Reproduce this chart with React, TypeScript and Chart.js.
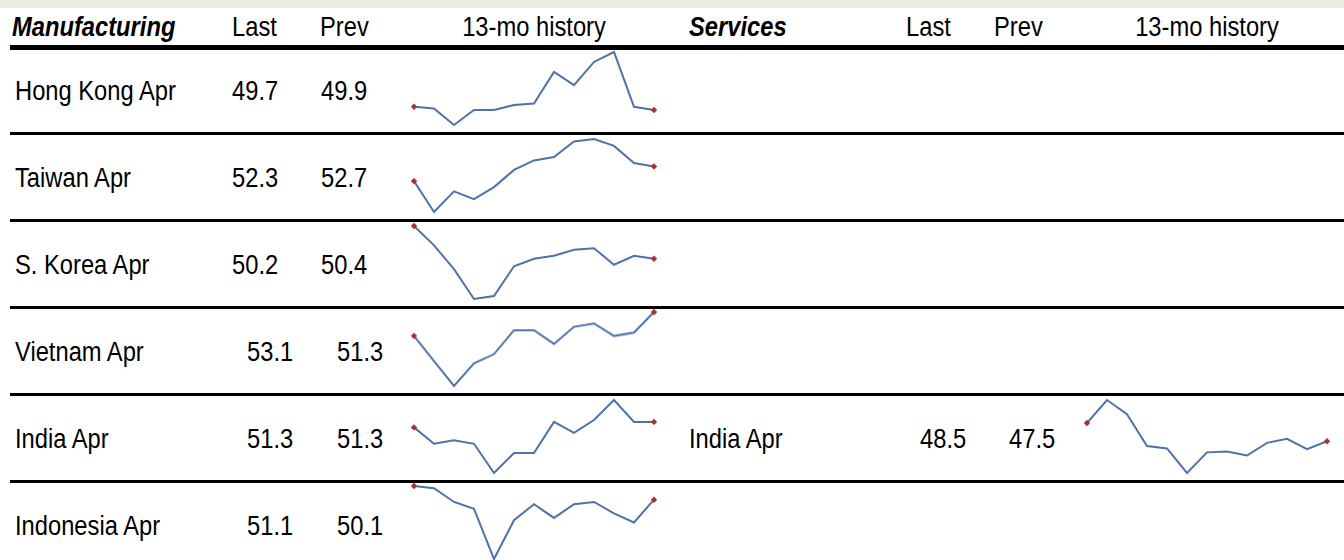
import React, { useEffect, useRef } from "react";
import { Chart, registerables } from "chart.js";

Chart.register(...registerables);

// ---------- data ----------
const months = ["Apr", "May", "Jun", "Jul", "Aug", "Sep", "Oct", "Nov", "Dec", "Jan", "Feb", "Mar", "Apr"];

const mfgNames = ["Hong Kong Apr", "Taiwan Apr", "S. Korea Apr", "Vietnam Apr", "India Apr", "Indonesia Apr"];
const mfgLast = ["49.7", "52.3", "50.2", "53.1", "51.3", "51.1"];
const mfgPrev = ["49.9", "52.7", "50.4", "51.3", "51.3", "50.1"];

const hongKong = [49.9, 49.8, 48.8, 49.7, 49.7, 50.0, 50.1, 52.0, 51.2, 52.6, 53.2, 49.9, 49.7];
const taiwan = [50.6, 47.0, 49.4, 48.5, 49.9, 51.9, 53.0, 53.4, 55.2, 55.5, 54.7, 52.7, 52.3];
const korea = [52.4, 51.1, 49.5, 47.5, 47.7, 49.7, 50.2, 50.4, 50.8, 50.9, 49.8, 50.4, 50.2];
const vietnam = [51.0, 48.8, 46.6, 48.6, 49.4, 51.5, 51.5, 50.3, 51.8, 52.1, 51.0, 51.3, 53.1];
const indiaMfg = [51.0, 50.1, 50.3, 50.1, 48.5, 49.6, 49.6, 51.3, 50.7, 51.4, 52.5, 51.3, 51.3];
const indonesia = [51.7, 51.6, 51.0, 50.7, 48.5, 50.2, 50.9, 50.3, 50.9, 51.0, 50.5, 50.1, 51.1];
const mfgHistory = [hongKong, taiwan, korea, vietnam, indiaMfg, indonesia];

const svcNames = ["India Apr"];
const svcLast = ["48.5"];
const svcPrev = ["47.5"];
const indiaSvc = [50.8, 53.7, 51.9, 47.9, 47.6, 44.5, 47.1, 47.2, 46.7, 48.3, 48.8, 47.5, 48.5];
const svcHistory = [indiaSvc];
const svcRowIndex = [4];

const headers = { mfg: "Manufacturing", svc: "Services", last: "Last", prev: "Prev", hist: "13-mo history" };

// ---------- layout ----------
const LINES = [47, 133.5, 220.5, 307.3, 394.5, 481.3, 568];
const SVC_DX = 674;
const HEADER_C = 27;
const FONT = '"Liberation Sans", Arial, Helvetica, sans-serif';
const FS = 26.8;
const SX = 0.885;

function Txt(props: { x: number; c: number; text: string; bold?: boolean; center?: boolean }) {
  const { x, c, text, bold, center } = props;
  return (
    <div
      style={{
        position: "absolute",
        left: x,
        top: c - 0.4885 * FS,
        fontFamily: FONT,
        fontSize: FS,
        lineHeight: `${FS}px`,
        height: FS,
        whiteSpace: "nowrap",
        color: "#000",
        fontWeight: bold ? 700 : 400,
        fontStyle: bold ? "italic" : "normal",
        transform: center ? `translateX(-50%) scaleX(${SX})` : `scaleX(${SX})`,
        transformOrigin: center ? "50% 50%" : "0 50%",
      }}
    >
      {text}
    </div>
  );
}

function Spark(props: { data: number[]; left: number; row: number }) {
  const ref = useRef<HTMLCanvasElement | null>(null);
  const { data, left, row } = props;
  const top = LINES[row] + 1;
  const height = LINES[row + 1] - LINES[row] - 5.5;
  const width = 260;
  useEffect(() => {
    if (!ref.current) return;
    const n = data.length;
    const chart = new Chart(ref.current, {
      type: "line",
      data: {
        labels: months,
        datasets: [
          {
            data,
            borderColor: "#4d73a8",
            borderWidth: 2,
            tension: 0,
            clip: false as any,
            pointRadius: data.map((_, i) => (i === 0 || i === n - 1 ? 3.2 : 0)),
            pointStyle: "rectRot",
            pointBackgroundColor: "#a83232",
            pointBorderColor: "#a83232",
            pointBorderWidth: 0,
          },
        ],
      },
      options: {
        animation: false,
        responsive: false,
        maintainAspectRatio: false,
        events: [],
        plugins: { legend: { display: false }, tooltip: { enabled: false } },
        layout: { padding: { left: 10, right: 10, top: 4, bottom: 4 } },
        scales: {
          x: { display: false, offset: false },
          y: { display: false, min: Math.min(...data), max: Math.max(...data) },
        },
      },
    });
    return () => chart.destroy();
  }, [data]);
  return (
    <canvas
      ref={ref}
      width={width}
      height={height}
      style={{ position: "absolute", left, top, width, height }}
    />
  );
}

export default function App() {
  const rowC = (k: number) => (LINES[k] + LINES[k + 1]) / 2 + 1;
  const lastX = (k: number) => (k < 3 ? 232 : 247);
  const prevX = (k: number) => (k < 3 ? 321 : 337);
  return (
    <div
      style={{
        position: "absolute",
        left: 0,
        top: 0,
        width: 1344,
        height: 560,
        overflow: "hidden",
        background: "#fff",
      }}
    >
      <div style={{ position: "absolute", left: 0, top: 0, width: 1344, height: 7.5, background: "#eeebe1" }} />

      <Txt x={12} c={HEADER_C} text={headers.mfg} bold />
      <Txt x={232} c={HEADER_C} text={headers.last} />
      <Txt x={320} c={HEADER_C} text={headers.prev} />
      <Txt x={534} c={HEADER_C} text={headers.hist} center />
      <Txt x={12 + SVC_DX + 3} c={HEADER_C} text={headers.svc} bold />
      <Txt x={232 + SVC_DX} c={HEADER_C} text={headers.last} />
      <Txt x={320 + SVC_DX} c={HEADER_C} text={headers.prev} />
      <Txt x={534 + SVC_DX - 1} c={HEADER_C} text={headers.hist} center />

      <div style={{ position: "absolute", left: 10, top: 44.5, width: 1334, height: 5.2, background: "#000" }} />
      {LINES.slice(1, 6).map((y, i) => (
        <div key={i} style={{ position: "absolute", left: 10, top: y - 1.4, width: 1334, height: 2.8, background: "#000" }} />
      ))}

      {mfgNames.map((name, k) => (
        <React.Fragment key={name}>
          <Txt x={15} c={rowC(k)} text={name} />
          <Txt x={lastX(k)} c={rowC(k)} text={mfgLast[k]} />
          <Txt x={prevX(k)} c={rowC(k)} text={mfgPrev[k]} />
          <Spark data={mfgHistory[k]} left={404} row={k} />
        </React.Fragment>
      ))}

      {svcNames.map((name, j) => {
        const k = svcRowIndex[j];
        return (
          <React.Fragment key={"s" + name}>
            <Txt x={15 + SVC_DX} c={rowC(k)} text={name} />
            <Txt x={246 + SVC_DX} c={rowC(k)} text={svcLast[j]} />
            <Txt x={335 + SVC_DX} c={rowC(k)} text={svcPrev[j]} />
            <Spark data={svcHistory[j]} left={404 + SVC_DX - 1} row={k} />
          </React.Fragment>
        );
      })}
    </div>
  );
}
